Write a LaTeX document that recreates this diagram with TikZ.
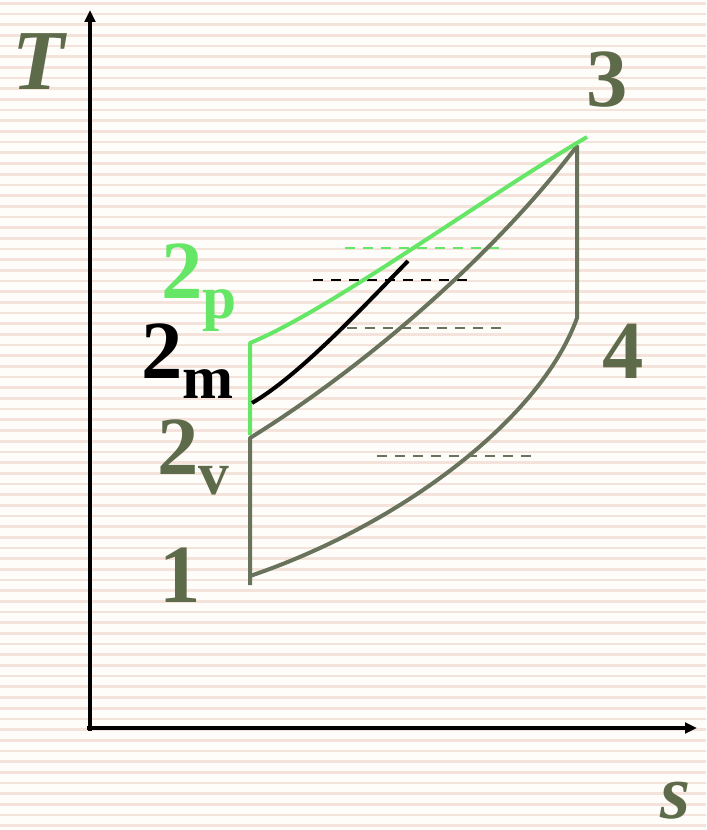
\documentclass[tikz,border=0pt]{standalone}
\usepackage{fontspec}
\setmainfont{Liberation Serif}
\usepackage{tikz}
\usetikzlibrary{arrows.meta}
\definecolor{paper}{HTML}{FFFDFA}
\definecolor{stripe}{HTML}{F3E3DA}
\definecolor{olive}{HTML}{69735C}
\definecolor{olivetext}{HTML}{5E6B4A}
\definecolor{lightgreen}{HTML}{66E666}
\newcommand{\lowidx}[1]{\raisebox{-15.5pt}{\fontsize{46}{48}\selectfont #1}}

\begin{document}
\begin{tikzpicture}[x=0.75pt,y=-0.75pt,
    lbl/.style={anchor=base west,inner sep=0pt,font=\fontsize{62}{66}\selectfont\bfseries},
    cycle/.style={olive,line width=3pt,line join=round},
    guide/.style={line width=2.1pt,dash pattern=on 7.5pt off 6pt}]
  \def\sx{90}
  \def\sy{728}

  % Striped paper.
  \useasboundingbox (0,0) rectangle (706,830);
  \fill[paper] (0,0) rectangle (706,830);
  \foreach \k in {0,...,77}{
    \pgfmathsetmacro{\yy}{3.3+10.68*\k}
    \draw[stripe,line width=2pt] (0,\yy) -- (706,\yy);
  }

  % Axes.
  \coordinate (origin) at (\sx,\sy);
  \coordinate (ttip) at (\sx,10);
  \coordinate (stip) at (697,\sy);
  \draw[line width=2.4pt,-{Triangle[length=9pt,width=8pt]}] (\sx,731) -- (ttip);
  \draw[line width=2.4pt,-{Triangle[length=9pt,width=8pt]}] (87,\sy) -- (stip);
  \node[lbl,olivetext,font=\fontsize{64}{68}\selectfont\bfseries\itshape] (labT) at (12,90) {T};
  \node[lbl,olivetext,font=\fontsize{58}{62}\selectfont\bfseries\itshape] (labS) at (660,818) {s};

  % State points.
  \coordinate (s1) at (250,576);
  \coordinate (s1b) at (250,585);
  \coordinate (s2v) at (250,438);
  \coordinate (s2p) at (250,343);
  \coordinate (s2m) at (252,403);
  \coordinate (s2e) at (408,261);
  \coordinate (s3) at (577,146);
  \coordinate (s3p) at (587,137);
  \coordinate (s4) at (577,318);

  % Constant-temperature guides.
  \draw[guide,lightgreen] (345,248) -- (507,248);
  \draw[guide,black] (313,280) -- (473,280);
  \draw[guide,olive] (347,328) -- (505,328);
  \draw[guide,olive] (377,456) -- (537,456);

  % Cycle.
  \draw[cycle] (s1b) -- (s2v) .. controls (360,370) and (490,260) .. (s3) -- (s4)
    .. controls (540,420) and (400,525) .. (s1);
  \draw[cycle,lightgreen] (s2v) ++(0,-3) -- (s2p) .. controls (330,310) and (480,200) .. (s3p);
  \draw[line width=3pt,black] (s2m) .. controls (300,375) and (365,305) .. (s2e);

  % Point labels.
  \node[lbl,olivetext] (lab1) at (159,602) {1};
  \node[lbl,olivetext] (lab2v) at (157,474) {2\lowidx{v}};
  \node[lbl,black] (lab2m) at (141,378) {2\lowidx{m}};
  \node[lbl,lightgreen] (lab2p) at (161,298) {2\lowidx{p}};
  \node[lbl,olivetext] (lab3) at (586,107) {3};
  \node[lbl,olivetext] (lab4) at (602,378) {4};
\end{tikzpicture}
\end{document}
